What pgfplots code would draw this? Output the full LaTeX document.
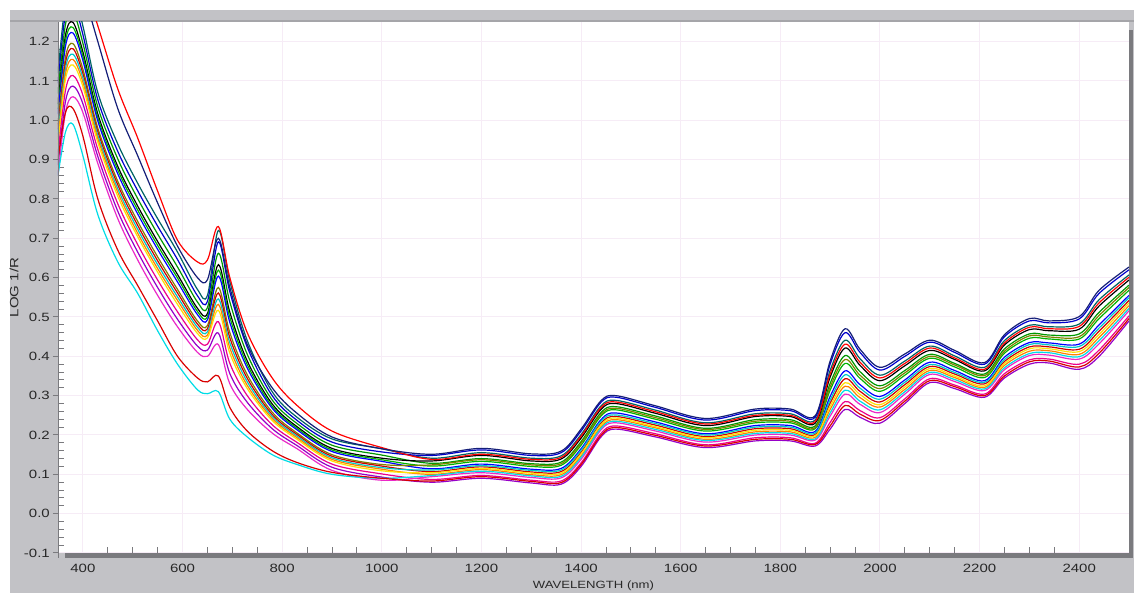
\documentclass[border=0pt]{standalone}
\usepackage{fontspec}
\setmainfont{Liberation Sans}[FakeStretch=1.25]
\usepackage{pgfplots}
\usepackage{pgfplotstable}
\pgfplotsset{compat=1.18}

\definecolor{panel}{RGB}{194,194,198}
\definecolor{panelline}{RGB}{165,165,169}
\definecolor{axisbar}{RGB}{122,122,126}
\definecolor{gridc}{RGB}{246,236,246}
\definecolor{ticktext}{RGB}{40,40,40}
\definecolor{navy}{RGB}{20,30,120}
\definecolor{cyanl}{RGB}{0,220,230}
\definecolor{tealdk}{RGB}{0,100,100}
\definecolor{greenb}{RGB}{0,180,0}
\definecolor{oliv}{RGB}{128,128,0}
\definecolor{aqua}{RGB}{0,200,200}
\definecolor{violetb}{RGB}{150,0,200}
\definecolor{pinkm}{RGB}{235,40,200}

% reflectance spectra, log(1/R) against wavelength in nm
\pgfplotstableread{
nm   R     N     C     L     b1    b2    b3    b4    b5    b6    b7    b8    b9    b10   b11   b12   b13   b14
350  1.35  1.30  0.86  0.90  1.120 1.094 1.068 1.042 1.029 1.016 0.990 0.977 0.964 0.951 0.938 0.912 0.886 0.860
365  1.40  1.38  0.97  1.02  1.300 1.272 1.244 1.216 1.202 1.188 1.160 1.146 1.132 1.118 1.104 1.076 1.048 1.020
380  1.42  1.40  0.99  1.03  1.330 1.303 1.276 1.249 1.236 1.222 1.195 1.182 1.168 1.155 1.141 1.114 1.087 1.060
400  1.36  1.33  0.91  0.96  1.240 1.218 1.196 1.174 1.163 1.152 1.130 1.119 1.108 1.097 1.086 1.064 1.042 1.020
430  1.24  1.20  0.76  0.80  1.070 1.052 1.034 1.016 1.007 0.998 0.980 0.971 0.962 0.953 0.944 0.926 0.908 0.890
470  1.08  1.03  0.64  0.67  0.940 0.921 0.902 0.883 0.874 0.864 0.845 0.836 0.826 0.817 0.807 0.788 0.769 0.750
510  0.955 0.91  0.56  0.58  0.840 0.821 0.801 0.782 0.772 0.762 0.743 0.733 0.723 0.713 0.704 0.684 0.665 0.645
550  0.82  0.79  0.465 0.49  0.750 0.731 0.711 0.692 0.682 0.672 0.653 0.643 0.633 0.623 0.614 0.594 0.575 0.555
590  0.695 0.68  0.38  0.40  0.665 0.646 0.627 0.608 0.599 0.589 0.570 0.561 0.551 0.542 0.532 0.513 0.494 0.475
630  0.64  0.60  0.315 0.345 0.570 0.554 0.538 0.522 0.514 0.506 0.490 0.482 0.474 0.466 0.458 0.442 0.426 0.410
650  0.645 0.595 0.305 0.335 0.555 0.540 0.524 0.509 0.501 0.493 0.478 0.470 0.462 0.454 0.447 0.431 0.416 0.400
672  0.73  0.70  0.31  0.35  0.720 0.691 0.662 0.633 0.619 0.604 0.575 0.561 0.546 0.532 0.517 0.488 0.459 0.430
695  0.60  0.575 0.24  0.27  0.590 0.564 0.538 0.512 0.499 0.486 0.460 0.447 0.434 0.421 0.408 0.382 0.356 0.330
730  0.46  0.43  0.195 0.21  0.440 0.423 0.405 0.388 0.379 0.370 0.353 0.344 0.335 0.326 0.318 0.300 0.283 0.265
780  0.345 0.32  0.15  0.16  0.310 0.300 0.289 0.279 0.273 0.268 0.258 0.252 0.247 0.242 0.237 0.226 0.216 0.205
830  0.275 0.255 0.125 0.13  0.245 0.237 0.229 0.221 0.217 0.213 0.205 0.201 0.197 0.193 0.189 0.181 0.173 0.165
900  0.21  0.195 0.10  0.105 0.190 0.182 0.174 0.166 0.162 0.158 0.150 0.146 0.142 0.138 0.134 0.126 0.118 0.110
1000 0.168 0.165 0.09  0.09  0.165 0.157 0.149 0.141 0.137 0.133 0.125 0.121 0.117 0.113 0.109 0.101 0.093 0.085
1100 0.138 0.151 0.097 0.083 0.141 0.148 0.128 0.134 0.121 0.114 0.124 0.107 0.111 0.100 0.104 0.087 0.080 0.094
1200 0.151 0.166 0.108 0.094 0.155 0.162 0.140 0.148 0.133 0.126 0.137 0.119 0.122 0.112 0.115 0.097 0.090 0.104
1300 0.138 0.152 0.096 0.082 0.141 0.148 0.127 0.134 0.120 0.113 0.124 0.106 0.110 0.099 0.103 0.085 0.078 0.092
1360 0.143 0.159 0.095 0.079 0.147 0.155 0.131 0.139 0.123 0.115 0.127 0.107 0.111 0.099 0.103 0.083 0.075 0.091
1400 0.197 0.215 0.143 0.125 0.201 0.210 0.183 0.192 0.174 0.165 0.179 0.156 0.161 0.147 0.152 0.129 0.120 0.138
1440 0.270 0.287 0.217 0.199 0.274 0.283 0.257 0.265 0.248 0.239 0.252 0.230 0.235 0.221 0.226 0.204 0.195 0.213
1470 0.284 0.300 0.235 0.219 0.288 0.296 0.272 0.280 0.264 0.256 0.268 0.247 0.251 0.239 0.243 0.223 0.215 0.231
1550 0.259 0.274 0.214 0.199 0.263 0.270 0.248 0.255 0.240 0.233 0.244 0.225 0.229 0.218 0.221 0.203 0.195 0.210
1650 0.228 0.242 0.186 0.172 0.231 0.238 0.217 0.224 0.210 0.203 0.214 0.196 0.200 0.189 0.193 0.175 0.168 0.182
1750 0.250 0.266 0.204 0.189 0.254 0.262 0.239 0.247 0.231 0.224 0.235 0.216 0.220 0.208 0.212 0.193 0.185 0.200
1820 0.250 0.266 0.204 0.189 0.254 0.262 0.239 0.247 0.231 0.224 0.235 0.216 0.220 0.208 0.212 0.193 0.185 0.200
1870 0.234 0.249 0.190 0.176 0.238 0.245 0.223 0.230 0.216 0.209 0.219 0.201 0.205 0.194 0.198 0.179 0.172 0.187
1900 0.355 0.388 0.256 0.223 0.364 0.380 0.331 0.347 0.314 0.298 0.322 0.281 0.289 0.265 0.273 0.232 0.215 0.248
1930 0.431 0.470 0.314 0.275 0.441 0.460 0.402 0.421 0.382 0.363 0.392 0.343 0.353 0.324 0.333 0.285 0.265 0.304
1960 0.385 0.418 0.286 0.253 0.394 0.410 0.361 0.377 0.344 0.328 0.352 0.311 0.319 0.295 0.303 0.262 0.245 0.278
2000 0.345 0.372 0.264 0.237 0.352 0.365 0.325 0.338 0.311 0.298 0.318 0.284 0.291 0.271 0.277 0.244 0.230 0.257
2050 0.382 0.406 0.310 0.286 0.388 0.400 0.364 0.376 0.352 0.340 0.358 0.328 0.334 0.316 0.322 0.292 0.280 0.304
2100 0.421 0.441 0.359 0.338 0.426 0.436 0.405 0.415 0.395 0.385 0.400 0.374 0.379 0.364 0.369 0.343 0.333 0.354
2150 0.396 0.415 0.341 0.323 0.401 0.410 0.382 0.392 0.373 0.364 0.378 0.355 0.359 0.346 0.350 0.327 0.318 0.336
2210 0.367 0.384 0.317 0.300 0.372 0.380 0.355 0.363 0.346 0.338 0.351 0.330 0.334 0.321 0.325 0.304 0.296 0.313
2250 0.434 0.455 0.371 0.350 0.440 0.450 0.419 0.429 0.408 0.398 0.413 0.387 0.392 0.377 0.382 0.356 0.345 0.366
2300 0.474 0.496 0.407 0.386 0.479 0.490 0.457 0.468 0.446 0.435 0.452 0.424 0.430 0.413 0.419 0.391 0.380 0.402
2340 0.470 0.490 0.409 0.388 0.475 0.485 0.454 0.465 0.444 0.434 0.449 0.424 0.429 0.414 0.419 0.393 0.383 0.403
2400 0.476 0.501 0.399 0.373 0.482 0.495 0.457 0.469 0.444 0.431 0.450 0.418 0.425 0.405 0.412 0.380 0.367 0.393
2440 0.536 0.568 0.440 0.408 0.544 0.560 0.512 0.528 0.496 0.480 0.504 0.464 0.472 0.448 0.456 0.416 0.400 0.432
2500 0.601 0.627 0.522 0.496 0.607 0.620 0.581 0.594 0.568 0.555 0.575 0.542 0.549 0.529 0.536 0.503 0.490 0.516
}\spectra

\begin{document}
\begin{tikzpicture}
\useasboundingbox (-58pt,-40pt) rectangle (1076pt,553pt);
\fill[white] (-58pt,-40pt) rectangle (1076pt,553pt);
\fill[panel] (-48pt,-40pt) rectangle (1076pt,543pt);
\fill[panelline] (-48pt,531pt) rectangle (1076pt,533pt);
\fill[axisbar] (1071pt,-5pt) rectangle (1075pt,523pt);
\fill[axisbar] (7pt,-5pt) rectangle (1075pt,0pt);
\begin{axis}[
  at={(0pt,0pt)}, anchor=south west,
  scale only axis, width=1071pt, height=531pt,
  xmin=350, xmax=2500, ymin=-0.1, ymax=1.25,
  axis background/.style={fill=white},
  axis line style={draw=none},
  xtick={400,600,800,1000,1200,1400,1600,1800,2000,2200,2400},
  ytick={-0.1,0,0.1,0.2,0.3,0.4,0.5,0.6,0.7,0.8,0.9,1.0,1.1,1.2},
  minor x tick num=3, minor y tick num=4,
  xtick pos=bottom, ytick pos=left,
  tick align=inside,
  major tick length=0pt, minor tick length=6pt,
  minor tick style={axisbar, line width=0.9pt},
  grid=major, major grid style={gridc, line width=1pt},
  /pgf/number format/assume math mode=true,
  xticklabel style={font=\fontsize{12}{14}\selectfont, text=ticktext,
    anchor=north, inner sep=0pt, yshift=-10.5pt,
    /pgf/number format/1000 sep={}},
  yticklabel={\pgfmathprintnumber{\tick}\hspace{3pt}\textcolor{axisbar}{\rule[3.8pt]{5pt}{0.9pt}}},
  yticklabel style={font=\fontsize{12}{14}\selectfont, text=ticktext,
    anchor=east, inner sep=0pt,
    /pgf/number format/fixed, /pgf/number format/fixed zerofill,
    /pgf/number format/precision=1},
  xlabel={WAVELENGTH (nm)},
  xlabel style={at={(axis description cs:0.5,-0.062)}, anchor=center,
    font=\fontsize{10.5}{12}\selectfont, text=ticktext},
  ylabel={LOG 1/R},
  ylabel style={at={(axis description cs:-0.041,0.5)}, anchor=center,
    font=\fontsize{12}{14}\selectfont, text=ticktext},
  every axis plot/.append style={smooth, tension=0.55, line width=1.2pt, mark=none},
]
\addplot[tealdk]  table[x=nm, y=b1]  {\spectra};
\addplot[blue!80!black] table[x=nm, y=b2] {\spectra};
\addplot[green!60!black] table[x=nm, y=b3] {\spectra};
\addplot[black]   table[x=nm, y=b4]  {\spectra};
\addplot[greenb]  table[x=nm, y=b5]  {\spectra};
\addplot[blue]    table[x=nm, y=b6]  {\spectra};
\addplot[oliv]    table[x=nm, y=b7]  {\spectra};
\addplot[red!80!black] table[x=nm, y=b8] {\spectra};
\addplot[aqua]    table[x=nm, y=b9]  {\spectra};
\addplot[orange]  table[x=nm, y=b10] {\spectra};
\addplot[yellow!85!orange] table[x=nm, y=b11] {\spectra};
\addplot[magenta] table[x=nm, y=b12] {\spectra};
\addplot[violetb] table[x=nm, y=b13] {\spectra};
\addplot[pinkm]   table[x=nm, y=b14] {\spectra};
\addplot[red]     table[x=nm, y=R]   {\spectra};
\addplot[navy]    table[x=nm, y=N]   {\spectra};
\addplot[cyanl]   table[x=nm, y=C]   {\spectra};
\addplot[red!85!black] table[x=nm, y=L] {\spectra};
\end{axis}
\draw[axisbar, line width=0.9pt] (0pt,-5pt) -- (0pt,531pt);
\end{tikzpicture}
\end{document}
